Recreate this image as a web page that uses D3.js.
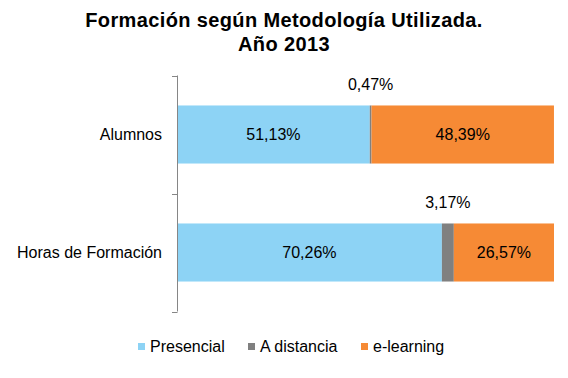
<!DOCTYPE html>
<html><head><meta charset="utf-8">
<script src="https://cdn.jsdelivr.net/npm/d3@7"></script>
<style>body{margin:0;background:#fff}svg{display:block}text{font-family:"Liberation Sans",Arial,sans-serif}</style>
</head><body>
<svg id="c" width="568" height="378"></svg>
<script>
const titleLines = ["Formación según Metodología Utilizada.", "Año 2013"];
const categories = ["Alumnos", "Horas de Formación"];
const seriesNames = ["Presencial", "A distancia", "e-learning"];
const presencial = [51.13, 70.26];
const aDistancia = [0.47, 3.17];
const eLearning = [48.39, 26.57];
const colors = ["#8DD3F5", "#808080", "#F68A35"];

const fmt = v => v.toFixed(2).replace(".", ",") + "%";
const svg = d3.select("#c");

svg.selectAll("text.title").data(titleLines).join("text")
  .attr("class","title").attr("x",284).attr("y",(d,i)=>27+i*24)
  .attr("text-anchor","middle").attr("font-size",20).attr("font-weight","bold").attr("fill","#000")
  .attr("letter-spacing",0.37)
  .text(d=>d);

const x = d3.scaleLinear().domain([0,100]).range([177,554]);
const y = d3.scaleBand().domain(categories).range([75.5,311.5]).paddingInner(0.508).paddingOuter(0.254);

const rows = categories.map((c,i)=>({cat:c, Presencial:presencial[i], "A distancia":aDistancia[i], "e-learning":eLearning[i]}));
const stacked = d3.stack().keys(seriesNames)(rows);

stacked.forEach((layer,k)=>{
  svg.append("g").selectAll("rect").data(layer).join("rect")
    .attr("x",d=>x(d[0])).attr("width",d=>x(d[1])-x(d[0]))
    .attr("y",d=>y(d.data.cat)).attr("height",y.bandwidth())
    .attr("fill",colors[k]);
  svg.append("g").selectAll("text").data(layer).join("text")
    .attr("x",d=>(x(d[0])+x(d[1]))/2)
    .attr("y",d=> k===1 ? y(d.data.cat)-15 : y(d.data.cat)+y.bandwidth()/2+5.5)
    .attr("text-anchor","middle").attr("font-size",16).attr("fill","#000")
    .text(d=>fmt(d[1]-d[0]));
});

// axis
const step = y.step();
const r0 = y.range()[0];
const bounds = d3.range(categories.length+1).map(i=>r0+i*step);
svg.append("line").attr("x1",177.5).attr("x2",177.5).attr("y1",bounds[0]).attr("y2",bounds[bounds.length-1])
  .attr("stroke","#868686").attr("stroke-width",1);
svg.append("g").selectAll("line").data(bounds).join("line")
  .attr("x1",172).attr("x2",177.5).attr("y1",d=>Math.round(d)+0.5).attr("y2",d=>Math.round(d)+0.5)
  .attr("stroke","#868686");
svg.append("g").selectAll("text").data(categories).join("text")
  .attr("x",162).attr("y",d=>y(d)+y.bandwidth()/2+5.5)
  .attr("text-anchor","end").attr("font-size",16).attr("fill","#000").text(d=>d);

// legend
const legX = [138, 248, 361];
const lg = svg.append("g").selectAll("g").data(seriesNames).join("g")
  .attr("transform",(d,i)=>`translate(${legX[i]},343)`);
lg.append("rect").attr("width",7).attr("height",7).attr("fill",(d,i)=>colors[i]);
lg.append("text").attr("x",12).attr("y",9).attr("font-size",16).attr("fill","#000").text(d=>d);
</script>
</body></html>
